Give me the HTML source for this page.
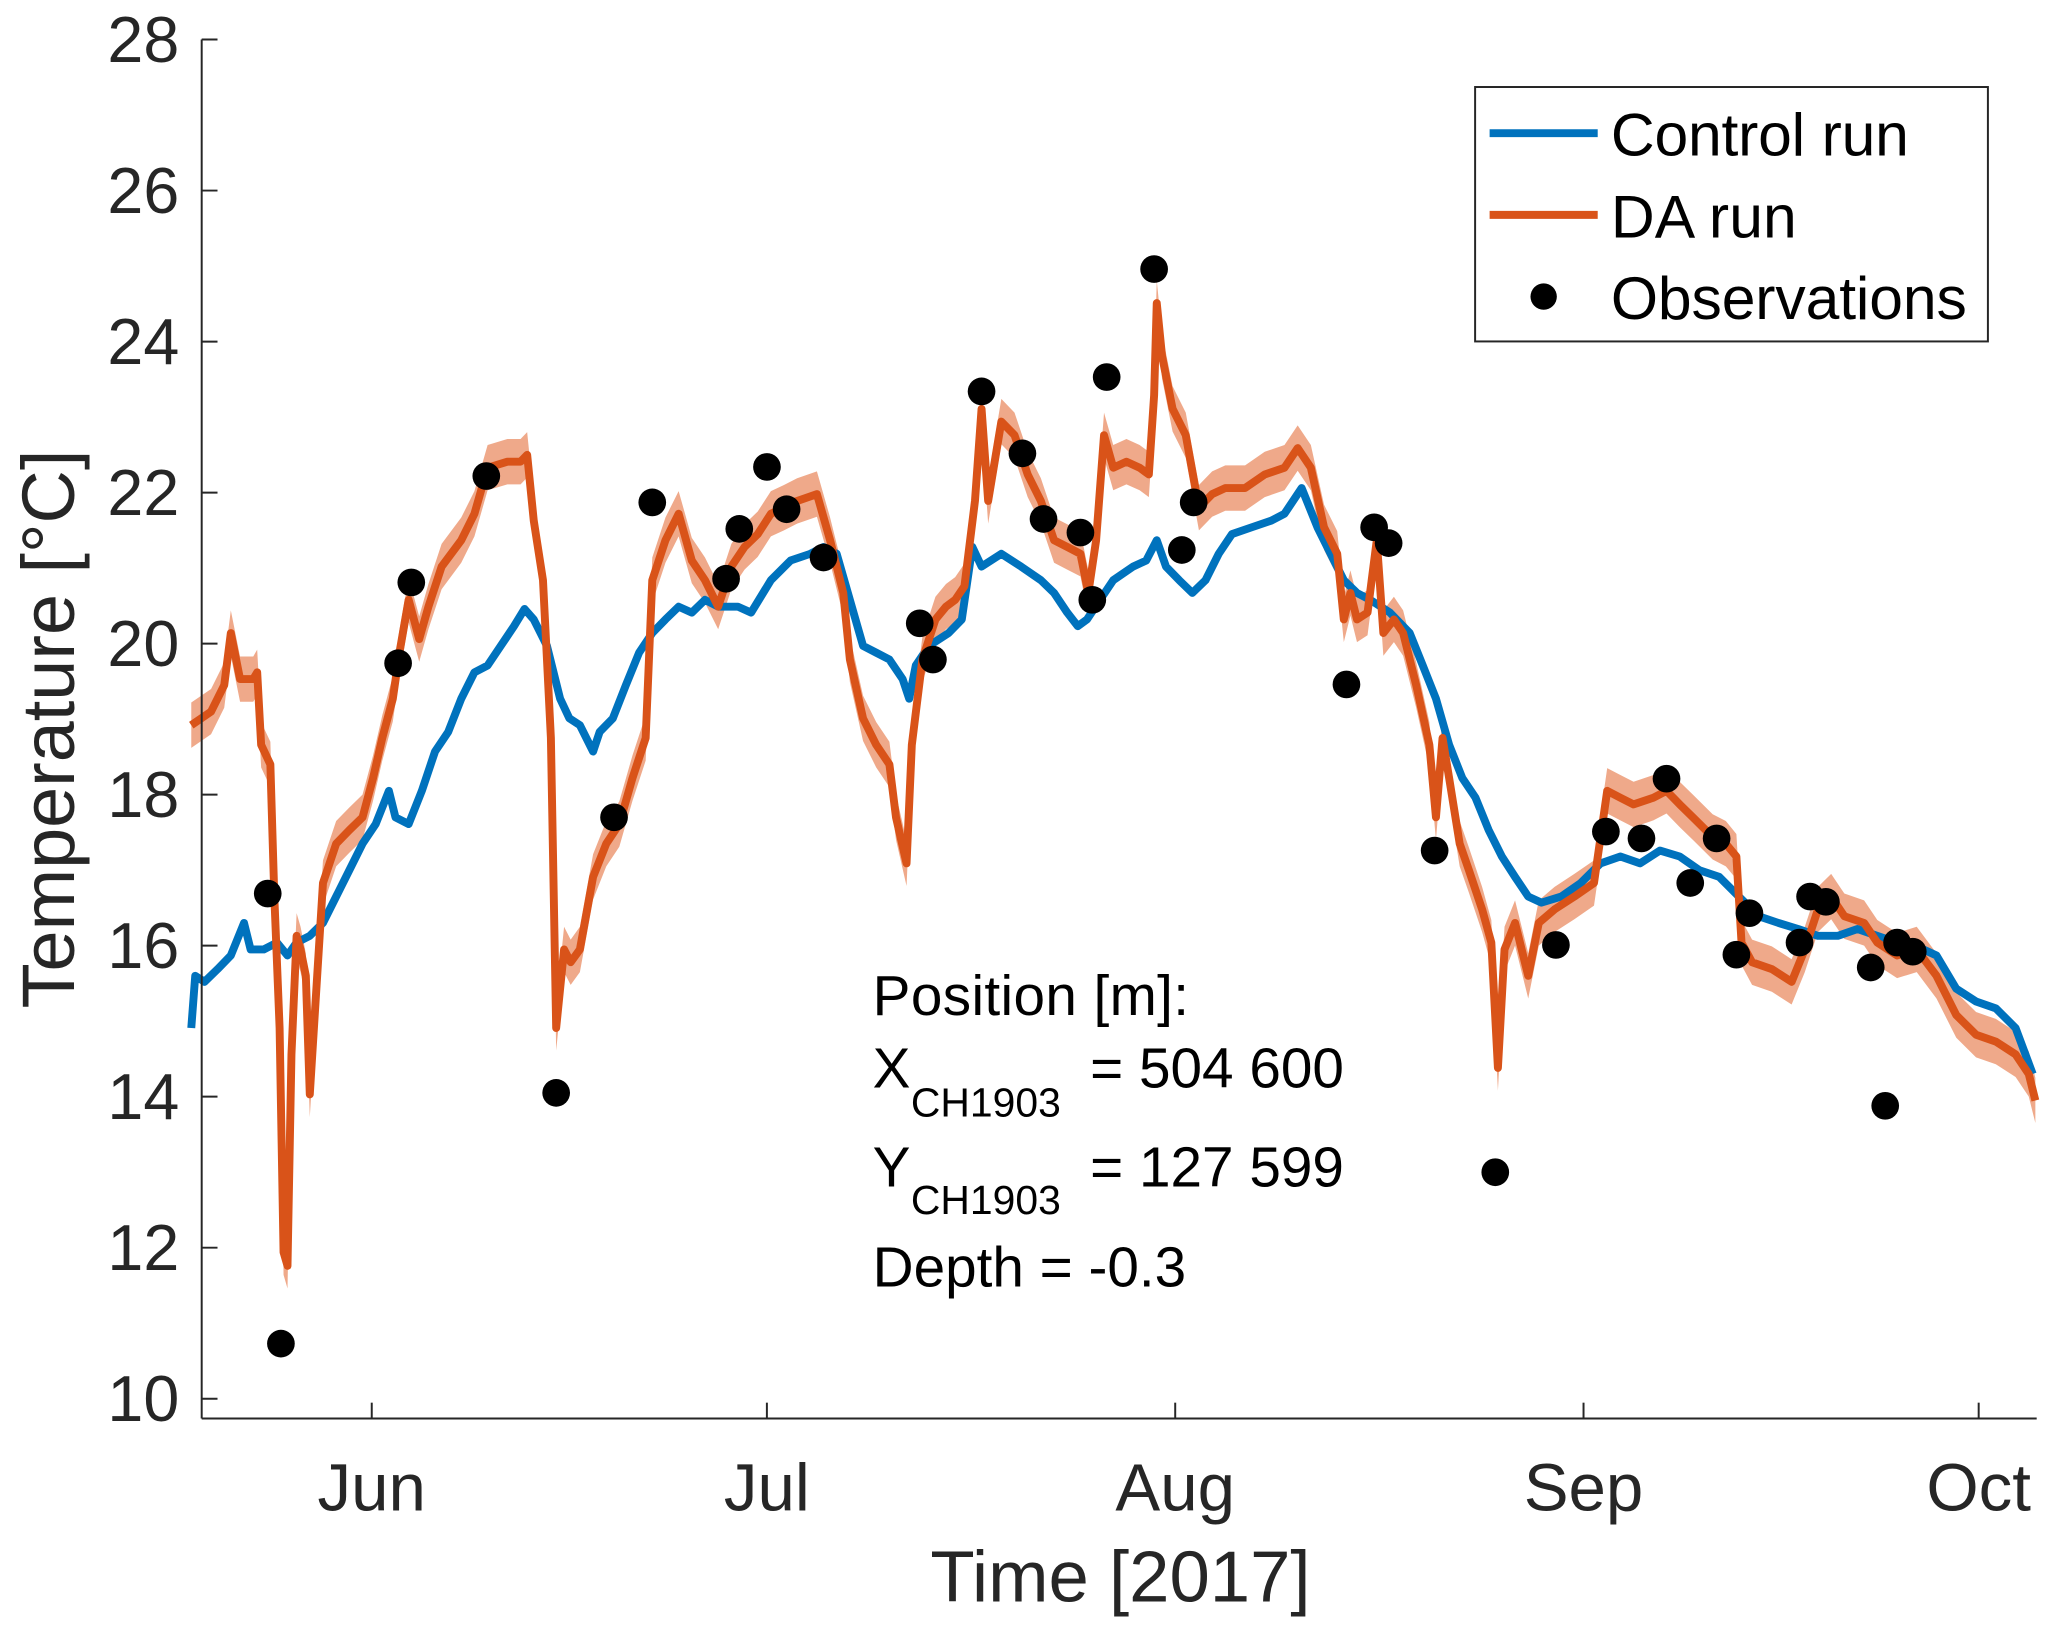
<!DOCTYPE html>
<html><head><meta charset="utf-8"><style>
html,body{margin:0;padding:0;background:#fff;}
svg{display:block;font-family:"Liberation Sans",Arial,sans-serif;}
</style></head><body>
<svg id="chart" width="2067" height="1636" viewBox="0 0 1568 1241" preserveAspectRatio="none" xmlns="http://www.w3.org/2000/svg">
<rect x="0" y="0" width="1568" height="1241" fill="#fff"/>
<g id="plot"></g>
<g id="axes"></g>
<g>
<rect x="1119" y="66" width="389" height="193" fill="#fff" stroke="#262626" stroke-width="1.5"/>
<line x1="1130" y1="101" x2="1212" y2="101" stroke="#0072BD" stroke-width="6"/>
<text x="1222" y="118" font-size="46" textLength="226" fill="#000">Control run</text>
<line x1="1130" y1="163" x2="1212" y2="163" stroke="#D95319" stroke-width="6"/>
<text x="1222" y="180" font-size="46" textLength="141" fill="#000">DA run</text>
<circle cx="1171" cy="225" r="10" fill="#000"/>
<text x="1222" y="242" font-size="46" textLength="270" fill="#000">Observations</text>
</g>
<g font-size="43" fill="#000">
<text x="662" y="770" textLength="240">Position [m]:</text>
<text x="662" y="825">X<tspan x="691" y="847" font-size="31">CH1903</tspan><tspan x="827" y="825">= 504 600</tspan></text>
<text x="662" y="900">Y<tspan x="691" y="921" font-size="31">CH1903</tspan><tspan x="827" y="900">= 127 599</tspan></text>
<text x="662" y="976">Depth = -0.3</text>
</g>
<text x="850" y="1215" font-size="55" text-anchor="middle" fill="#262626">Time [2017]</text>
<text transform="translate(56,553) rotate(-90)" font-size="56" text-anchor="middle" fill="#262626">Temperature [°C]</text>
</svg>
<script>
// Days relative to 1 June 2017
const yTicks=[10,12,14,16,18,20,22,24,26,28];
const monthLabels=["Jun","Jul","Aug","Sep","Oct"];
const monthDays=[0,30,61,92,122];
const controlDays=[-13.7,-13.4,-12.7,-11.7,-10.7,-9.7,-9.2,-8.2,-7.2,-6.4,-5.7,-4.7,-3.7,-2.7,-1.7,-0.7,0.3,1.3,1.8,2.8,3.8,4.8,5.8,6.8,7.8,8.8,9.8,10.8,11.6,12.3,13.3,14.3,15.0,15.8,16.8,17.3,18.3,19.3,20.3,21.3,22.3,23.3,24.3,25.3,26.3,27.8,28.8,30.3,31.8,33.3,34.3,35.3,36.3,37.3,38.3,39.3,40.3,40.8,41.3,42.3,43.8,44.8,45.6,46.3,47.8,49.3,50.8,51.8,52.8,53.6,54.3,55.3,56.3,57.8,58.8,59.6,60.3,61.3,62.3,63.3,64.3,65.3,66.8,68.3,69.3,70.6,71.8,72.8,73.8,74.8,75.8,77.3,78.8,79.8,80.8,81.8,82.8,83.8,84.8,85.8,86.8,87.8,88.8,90.3,91.8,93.3,94.8,96.3,97.8,99.3,100.8,102.3,103.8,105.3,106.8,108.3,109.8,111.3,112.8,114.3,115.8,117.3,118.8,120.3,121.8,123.3,124.8,126.1];
const controlTemps=[14.91,15.60,15.52,15.69,15.87,16.30,15.95,15.95,16.04,15.87,16.04,16.13,16.30,16.65,17.0,17.35,17.61,18.05,17.70,17.61,18.05,18.57,18.83,19.27,19.62,19.71,19.97,20.23,20.46,20.32,19.97,19.27,19.01,18.92,18.57,18.83,19.01,19.45,19.88,20.14,20.32,20.49,20.41,20.58,20.49,20.49,20.41,20.84,21.10,21.19,21.28,21.19,20.58,19.97,19.88,19.79,19.53,19.27,19.71,19.97,20.14,20.32,21.28,21.02,21.19,21.02,20.84,20.67,20.41,20.23,20.32,20.58,20.84,21.02,21.10,21.37,21.02,20.84,20.67,20.84,21.19,21.45,21.54,21.63,21.72,22.06,21.54,21.19,20.84,20.67,20.58,20.41,20.14,19.71,19.27,18.66,18.22,17.96,17.53,17.18,16.91,16.65,16.57,16.65,16.83,17.09,17.18,17.09,17.26,17.18,17.0,16.91,16.65,16.39,16.30,16.22,16.13,16.13,16.22,16.13,16.04,15.99,15.87,15.43,15.26,15.17,14.91,14.30];
const daDays=[-13.7,-12.2,-11.2,-10.7,-10.0,-9.0,-8.7,-8.4,-7.7,-7.4,-7.0,-6.7,-6.4,-6.1,-5.7,-5.4,-5.0,-4.7,-4.2,-3.7,-2.7,-1.7,-0.7,0.1,0.8,1.6,2.1,2.8,3.6,4.3,5.3,6.8,7.8,8.8,10.3,11.3,11.8,12.3,13.0,13.6,14.0,14.6,15.1,15.8,16.8,17.8,18.8,19.8,20.8,21.3,22.3,23.3,24.3,25.3,26.3,27.3,28.3,29.3,30.3,31.3,32.3,33.8,34.8,35.8,36.3,37.3,38.3,39.3,39.8,40.6,41.0,41.8,42.8,43.6,44.3,45.0,45.8,46.3,46.8,47.8,48.8,49.8,50.8,51.8,52.8,53.8,54.4,55.0,55.6,56.3,57.3,58.3,59.0,59.4,59.6,60.0,60.8,61.8,62.8,63.8,64.8,66.3,67.8,69.3,70.3,71.3,72.3,73.3,73.8,74.3,74.8,75.6,76.3,76.8,77.6,78.3,79.3,80.3,80.8,81.3,81.8,82.6,83.3,84.3,85.0,85.5,86.0,86.8,87.8,88.6,89.8,91.3,92.8,93.8,94.8,95.8,97.3,98.3,99.3,100.3,101.8,102.8,103.6,104.0,104.8,106.3,107.8,108.8,109.8,110.8,111.8,113.3,114.3,115.8,117.3,118.8,120.3,121.8,123.3,124.8,125.8,126.3];
const daTemps=[18.92,19.10,19.45,20.14,19.53,19.53,19.62,18.66,18.40,16.65,14.91,11.94,11.76,14.56,16.13,15.95,15.60,14.03,15.43,16.83,17.35,17.53,17.70,18.22,18.75,19.27,19.88,20.58,20.06,20.49,21.02,21.37,21.72,22.33,22.41,22.41,22.50,21.63,20.84,18.75,14.91,15.95,15.78,15.95,16.91,17.35,17.61,18.22,18.75,20.84,21.37,21.72,21.10,20.84,20.49,21.02,21.28,21.45,21.72,21.80,21.89,21.98,21.37,20.67,19.79,19.01,18.66,18.40,17.70,17.09,18.66,19.79,20.32,20.49,20.58,20.76,21.89,23.11,21.89,22.94,22.76,22.24,21.89,21.37,21.28,21.19,20.67,21.37,22.76,22.33,22.41,22.33,22.24,23.29,24.51,23.81,23.11,22.76,21.80,21.98,22.06,22.06,22.24,22.33,22.59,22.33,21.54,21.19,20.32,20.67,20.32,20.41,21.37,20.14,20.32,20.14,19.45,18.66,17.70,18.75,18.22,17.35,17.0,16.48,16.04,14.38,15.95,16.30,15.60,16.30,16.48,16.65,16.83,18.05,17.96,17.87,17.96,18.05,17.87,17.70,17.44,17.35,17.18,16.04,15.78,15.69,15.52,15.95,16.48,16.65,16.39,16.30,16.04,15.87,15.95,15.60,15.08,14.82,14.73,14.56,14.30,13.95];
const bandHalfWidth=0.3;
const obsDays=[-7.9,-6.9,2.0,3.0,8.7,14.0,18.4,21.3,26.9,27.9,30.0,31.5,34.3,41.6,42.6,46.3,49.4,51.0,53.8,54.7,55.8,59.4,61.5,62.4,74.0,76.1,77.2,80.7,85.3,89.9,93.7,96.4,98.3,100.1,102.1,103.6,104.6,108.4,109.2,110.4,113.8,114.9,115.8,117.0];
const obsTemps=[16.69,10.73,19.74,20.81,22.22,14.05,17.70,21.87,20.86,21.52,22.34,21.78,21.14,20.27,19.79,23.34,22.52,21.65,21.47,20.58,23.53,24.96,21.24,21.87,19.46,21.54,21.33,17.26,13.0,16.01,17.51,17.42,18.21,16.83,17.42,15.88,16.43,16.04,16.65,16.58,15.71,13.88,16.04,15.92];

const NS="http://www.w3.org/2000/svg";
const X0=153,X1=1545,Y0=1076;
function xs(d){return 282+d*(1501-282)/122;}
function ys(t){return 1061-(t-10)*(1061-30)/18;}
const plot=document.getElementById('plot'),axes=document.getElementById('axes');
function mk(tag,attrs,parent){const e=document.createElementNS(NS,tag);for(const k in attrs)e.setAttribute(k,attrs[k]);parent.appendChild(e);return e;}

let up=daDays.map((d,i)=>xs(d).toFixed(1)+','+ys(daTemps[i]+bandHalfWidth).toFixed(1));
let dn=daDays.map((d,i)=>xs(d).toFixed(1)+','+ys(daTemps[i]-bandHalfWidth).toFixed(1)).reverse();
const band=mk('polygon',{points:up.concat(dn).join(' '),fill:'#EFA98A',stroke:'none'},plot);



const cl=mk('polyline',{points:controlDays.map((d,i)=>xs(d).toFixed(1)+','+ys(controlTemps[i]).toFixed(1)).join(' '),fill:'none',stroke:'#0072BD','stroke-width':6,'stroke-linejoin':'round'},plot);


const dl=mk('polyline',{points:daDays.map((d,i)=>xs(d).toFixed(1)+','+ys(daTemps[i]).toFixed(1)).join(' '),fill:'none',stroke:'#D95319','stroke-width':6,'stroke-linejoin':'round'},plot);



obsDays.forEach((d,i)=>{
  const c=mk('circle',{cx:xs(d).toFixed(1),cy:ys(obsTemps[i]).toFixed(1),r:10.5,fill:'#000'},plot);
  
  
});

const ya=mk('line',{x1:X0,y1:Y0,x2:X0,y2:ys(28),stroke:'#262626','stroke-width':1.5},axes);


const xa=mk('line',{x1:X0,y1:Y0,x2:X1,y2:Y0,stroke:'#262626','stroke-width':1.5},axes);


yTicks.forEach(t=>{
  const y=ys(t);
  const tk=mk('line',{x1:X0,y1:y,x2:X0+12,y2:y,stroke:'#262626','stroke-width':1.5},axes);
  
  
  const tx=mk('text',{x:136,y:y+17,'font-size':49,'text-anchor':'end',fill:'#262626'},axes);
  tx.textContent=t;
  
  
});
monthDays.forEach((d,i)=>{
  const x=xs(d);
  const tk=mk('line',{x1:x,y1:Y0,x2:x,y2:Y0-12,stroke:'#262626','stroke-width':1.5},axes);
  
  
  const tx=mk('text',{x:x,y:1146,'font-size':51,'text-anchor':'middle',fill:'#262626'},axes);
  tx.textContent=monthLabels[i];
  
  
});
</script>
</body></html>
